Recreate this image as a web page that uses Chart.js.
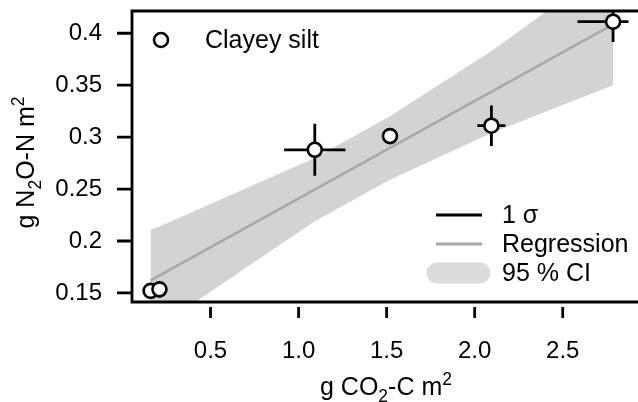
<!DOCTYPE html>
<html>
<head>
<meta charset="utf-8">
<script src="https://cdn.jsdelivr.net/npm/chart.js@4.4.1/dist/chart.umd.min.js"></script>
<style>
  html, body { margin: 0; padding: 0; background: #ffffff; }
  #wrap { width: 638px; height: 402px; position: relative; }
</style>
</head>
<body>
<div id="wrap"><canvas id="c" width="638" height="402"></canvas></div>
<script>
// ---- data ----
const seriesName = "Clayey silt";
const xValues = [0.160, 0.210, 1.092, 1.519, 2.095, 2.786];   // g CO2-C m2
const yValues = [0.1520, 0.1535, 0.2878, 0.3010, 0.3110, 0.4111]; // g N2O-N m2
const xSigma  = [0.043, 0.040, 0.174, 0.020, 0.080, 0.202];
const ySigma  = [0.003, 0.0080, 0.0250, 0.0030, 0.0195, 0.0195];

const regX = [0.160, 2.786];
const regY = [0.1621, 0.4085];

const ciX     = [0.160, 0.210, 1.092, 1.519, 2.095, 2.786];
const ciUpper = [0.211, 0.214, 0.280, 0.320, 0.383, 0.467];
const ciLower = [0.113, 0.118, 0.219, 0.259, 0.304, 0.350];

const xTicks = [0.5, 1.0, 1.5, 2.0, 2.5];
const xTickLabels = ["0.5", "1.0", "1.5", "2.0", "2.5"];
const yTicks = [0.15, 0.2, 0.25, 0.3, 0.35, 0.4];
const yTickLabels = ["0.15", "0.2", "0.25", "0.3", "0.35", "0.4"];

const legendLabels = ["1 \u03c3", "Regression", "95 % CI"];

// ---- style ----
const FONT = "'Liberation Sans', Arial, Helvetica, sans-serif";
const TICK_SIZE = 24;
const LEG_SIZE = 25;
const TITLE_SIZE = 25;
const LW = 2.8;
const BAND = "#d3d3d3";
const REG = "#a9a9a9";

const pts = xValues.map((x, i) => ({ x: x, y: yValues[i] }));
const reg = regX.map((x, i) => ({ x: x, y: regY[i] }));
const up = ciX.map((x, i) => ({ x: x, y: ciUpper[i] }));
const lo = ciX.map((x, i) => ({ x: x, y: ciLower[i] }));

function drawRich(ctx, parts, x, y, size) {
  let total = 0;
  parts.forEach(p => {
    const fs = p.s ? size * 0.7 : size;
    ctx.font = fs + "px " + FONT;
    p.w = ctx.measureText(p.t).width;
    p.fs = fs;
    total += p.w;
  });
  let cx = x - total / 2;
  parts.forEach(p => {
    ctx.font = p.fs + "px " + FONT;
    let dy = 0;
    if (p.s === -1) dy = size * 0.28;
    if (p.s === 1) dy = -size * 0.42;
    ctx.fillText(p.t, cx, y + dy);
    cx += p.w;
  });
}

const decor = {
  id: 'decor',
  afterDatasetDraw(chart, args) {
    if (args.index !== 1) return;
    const ctx = chart.ctx, xs = chart.scales.x, ys = chart.scales.y, ca = chart.chartArea;
    ctx.save();
    ctx.beginPath();
    ctx.rect(ca.left, ca.top, ca.right - ca.left, ca.bottom - ca.top);
    ctx.clip();
    ctx.strokeStyle = "#000";
    ctx.lineWidth = LW;
    ctx.lineCap = "butt";
    xValues.forEach((xv, i) => {
      const px = xs.getPixelForValue(xv), py = ys.getPixelForValue(yValues[i]);
      const x0 = xs.getPixelForValue(xv - xSigma[i]), x1 = xs.getPixelForValue(xv + xSigma[i]);
      const y0 = ys.getPixelForValue(yValues[i] - ySigma[i]), y1 = ys.getPixelForValue(yValues[i] + ySigma[i]);
      ctx.beginPath();
      ctx.moveTo(x0, py); ctx.lineTo(x1, py);
      ctx.moveTo(px, y0); ctx.lineTo(px, y1);
      ctx.stroke();
    });
    ctx.restore();
  },
  afterDraw(chart) {
    const ctx = chart.ctx, xs = chart.scales.x, ys = chart.scales.y, ca = chart.chartArea;
    ctx.save();
    ctx.strokeStyle = "#000";
    ctx.lineWidth = LW;
    ctx.lineCap = "butt";
    ctx.beginPath();
    ctx.moveTo(chart.width, ca.top); ctx.lineTo(ca.left, ca.top);
    ctx.lineTo(ca.left, ca.bottom); ctx.lineTo(chart.width, ca.bottom);
    ctx.stroke();
    ctx.beginPath();
    yTicks.forEach(v => {
      const py = ys.getPixelForValue(v);
      ctx.moveTo(ca.left - 15, py); ctx.lineTo(ca.left, py);
    });
    xTicks.forEach(v => {
      const px = xs.getPixelForValue(v);
      ctx.moveTo(px, ca.bottom + 5); ctx.lineTo(px, ca.bottom + 16);
    });
    ctx.stroke();

    ctx.fillStyle = "#000";
    ctx.textAlign = "left";
    ctx.textBaseline = "alphabetic";
    drawRich(ctx, [{t: "g CO", s: 0}, {t: "2", s: -1}, {t: "-C m", s: 0}, {t: "2", s: 1}],
             (ca.left + 638) / 2 + 1, 395, TITLE_SIZE);
    ctx.save();
    ctx.translate(34, (ca.top + ca.bottom) / 2 + 6);
    ctx.rotate(-Math.PI / 2);
    drawRich(ctx, [{t: "g N", s: 0}, {t: "2", s: -1}, {t: "O-N m", s: 0}, {t: "2", s: 1}], 0, 0, TITLE_SIZE);
    ctx.restore();

    ctx.beginPath();
    ctx.arc(ca.left + 29, ca.top + 29, 7, 0, Math.PI * 2);
    ctx.fillStyle = "#fff"; ctx.fill();
    ctx.lineWidth = 2.6; ctx.strokeStyle = "#000"; ctx.stroke();
    ctx.fillStyle = "#000";
    ctx.font = LEG_SIZE + "px " + FONT;
    ctx.textBaseline = "middle";
    ctx.fillText(seriesName, ca.left + 73, ca.top + 30);

    const lx0 = 436, lx1 = 482, tx = 502;
    const rows = [215, 244, 273];
    ctx.lineWidth = LW;
    ctx.strokeStyle = "#000";
    ctx.beginPath(); ctx.moveTo(lx0, rows[0]); ctx.lineTo(lx1, rows[0]); ctx.stroke();
    ctx.strokeStyle = REG;
    ctx.beginPath(); ctx.moveTo(lx0, rows[1]); ctx.lineTo(lx1, rows[1]); ctx.stroke();
    ctx.strokeStyle = "#dcdcdc";
    ctx.lineWidth = 21; ctx.lineCap = "round";
    ctx.beginPath(); ctx.moveTo(lx0 + 1, rows[2]); ctx.lineTo(lx1 - 2, rows[2]); ctx.stroke();
    ctx.fillStyle = "#000";
    legendLabels.forEach((t, i) => ctx.fillText(t, tx, rows[i] + 1));
    ctx.restore();
  }
};

new Chart(document.getElementById('c'), {
  type: 'scatter',
  data: {
    datasets: [
      { label: seriesName, data: pts, showLine: false, pointRadius: 7, pointHoverRadius: 7,
        pointBackgroundColor: "#fff", pointBorderColor: "#000", pointBorderWidth: 2.6, clip: false },
      { label: "Regression", data: reg, showLine: true, borderColor: REG, borderWidth: 2.7,
        pointRadius: 0, fill: false },
      { label: "CI upper", data: up, showLine: true, borderWidth: 0, borderColor: "rgba(0,0,0,0)",
        backgroundColor: BAND, pointRadius: 0, fill: '+1' },
      { label: "CI lower", data: lo, showLine: true, borderWidth: 0, borderColor: "rgba(0,0,0,0)",
        pointRadius: 0, fill: false }
    ]
  },
  options: {
    responsive: false,
    animation: false,
    devicePixelRatio: 1,
    layout: { padding: { top: 11, right: 0, left: 0, bottom: 0 } },
    plugins: { legend: { display: false }, tooltip: { enabled: false } },
    events: [],
    scales: {
      x: {
        type: 'linear', min: 0.054, max: 2.873,
        afterFit: s => { s.height = 100; s.paddingLeft = 0; s.paddingRight = 0; },
        afterBuildTicks: s => { s.ticks = xTicks.map(v => ({ value: v })); },
        ticks: { callback: (v, i) => xTickLabels[i], color: "#000", padding: 19,
                 font: { family: FONT, size: TICK_SIZE }, maxRotation: 0, autoSkip: false },
        grid: { display: true, drawOnChartArea: false, drawTicks: true, tickLength: 16, color: "rgba(0,0,0,0)" },
        border: { display: false }
      },
      y: {
        type: 'linear', min: 0.1413, max: 0.4214,
        afterFit: s => { s.width = 132; s.paddingTop = 0; s.paddingBottom = 0; },
        afterBuildTicks: s => { s.ticks = yTicks.map(v => ({ value: v })); },
        ticks: { callback: (v, i) => yTickLabels[i], color: "#000", padding: 15,
                 font: { family: FONT, size: TICK_SIZE }, autoSkip: false },
        grid: { display: true, drawOnChartArea: false, drawTicks: true, tickLength: 15, color: "rgba(0,0,0,0)" },
        border: { display: false }
      }
    }
  },
  plugins: [decor]
});
</script>
</body>
</html>
